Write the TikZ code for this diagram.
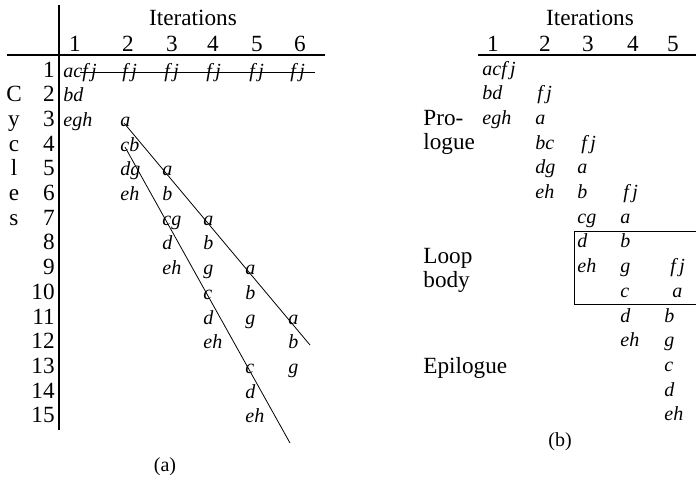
\documentclass[tikz,border=0pt]{standalone}
\usepackage{fontspec}
\setmainfont{Liberation Serif}
\begin{document}
\begin{tikzpicture}[x=0.5pt,y=-0.5pt,font=\fontsize{11.6}{13}\selectfont,
  op/.style={anchor=base west,inner sep=0pt,font=\itshape},
  num/.style={anchor=base,inner sep=0pt},
  lbl/.style={anchor=base west,inner sep=0pt},
  rule/.style={line width=0.8pt}]
\useasboundingbox (0,0) rectangle (696,479);
\node[num] (aiter) at (193,25) {Iterations};
\foreach \x [count=\i] in {75,128,172,213,257,300}
  \node[num] (acol\i) at (\x,51) {\i};
\draw[rule] (7,55) -- (325,55);
\draw[rule] (59,5) -- (59,430);
\foreach \r in {1,...,15}
  \node[num,anchor=base east] (arow\r) at (55,{77+(\r-1)*24.7}) {\r};
\foreach \l [count=\i from 2] in {C,y,c,l,e,s}
  \node[num] (cyc\i) at (14,{77+(\i-1)*24.7}) {\l};
\foreach \r/\c/\t in {1/1/acf\,j,2/1/bd,3/1/egh,3/2/a,4/2/cb,5/2/dg,5/3/a,6/2/eh,6/3/b,
    7/3/cg,7/4/a,8/3/d,8/4/b,9/3/eh,9/4/g,9/5/a,10/4/c,10/5/b,11/4/d,11/5/g,11/6/a,
    12/4/eh,12/6/b,13/5/c,13/6/g,14/5/d,15/5/eh}{
  \pgfmathsetmacro\cx{{63,120,162,203,245,288}[\c-1]}
  \node[op] (a-\r-\c) at (\cx,{77+(\r-1)*24.7}) {\t};
}
\foreach \c in {2,...,6}{
  \pgfmathsetmacro\cx{{63,122,164,206,249,290}[\c-1]}
  \node[op] (a-1-\c) at (\cx,77) {f\,j};
}
\draw (80,72) -- (315,72);
\coordinate (d1s) at (124,123);
\coordinate (d1e) at (310,345);
\coordinate (d2s) at (125,147);
\coordinate (d2e) at (290,443);
\draw (d1s) -- (d1e);
\draw (d2s) -- (d2e);
\node[font=\fontsize{10}{12}\selectfont] (capa) at (165,467) {(a)};

\node[num] (biter) at (590,25) {Iterations};
\foreach \x [count=\i] in {493,545,588,633,673}
  \node[num] (bcol\i) at (\x,51) {\i};
\draw[rule] (478,55) -- (697,55);
\foreach \r/\c/\d/\t in {1/1/0/acf\,j,2/1/0/bd,2/2/2/f\,j,3/1/0/egh,3/2/0/a,4/2/0/bc,4/3/4/f\,j,
    5/2/0/dg,5/3/0/a,6/2/0/eh,6/3/0/b,6/4/3/f\,j,7/3/0/cg,7/4/0/a,8/3/0/d,8/4/0/b,9/3/0/eh,
    9/4/0/g,9/5/6/f\,j,10/4/0/c,10/5/8/a,11/4/0/d,11/5/0/b,12/4/0/eh,12/5/0/g,13/5/0/c,
    14/5/0/d,15/5/0/eh}{
  \pgfmathsetmacro\cx{{482,535,577,620,664}[\c-1]+\d}
  \node[op] (b-\r-\c) at (\cx,{75+(\r-1)*24.7}) {\t};
}
\draw (697,231) -- (574,231) -- (574,304) -- (697,304);
\node[lbl] (pro) at (423,125) {Pro-};
\node[lbl] (logue) at (423,149) {logue};
\node[lbl] (loop) at (423,263) {Loop};
\node[lbl] (body) at (423,287) {body};
\node[lbl] (epi) at (423,373) {Epilogue};
\node[font=\fontsize{10}{12}\selectfont] (capb) at (560,442) {(b)};
\end{tikzpicture}
\end{document}
